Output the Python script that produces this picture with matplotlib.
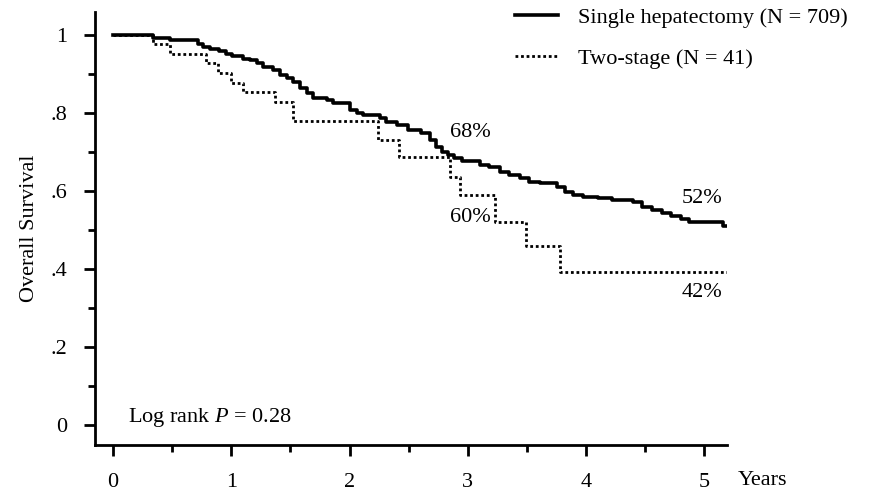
import matplotlib
matplotlib.use("Agg")
import matplotlib.pyplot as plt
from matplotlib.ticker import MultipleLocator

plt.rcParams['font.family'] = ['Liberation Serif', 'DejaVu Serif']
plt.rcParams['mathtext.fontset'] = 'custom'
plt.rcParams['mathtext.rm'] = 'Liberation Serif'
plt.rcParams['mathtext.it'] = 'Liberation Serif:italic'

# Kaplan-Meier estimates (time in years, survival)
single_t = [0, 0.34, 0.48, 0.72, 0.76, 0.82, 0.90, 0.96, 1.01, 1.10, 1.16, 1.22,
            1.27, 1.35, 1.41, 1.47, 1.52, 1.58, 1.64, 1.69, 1.81, 1.86, 2.00, 2.06,
            2.11, 2.26, 2.31, 2.40, 2.49, 2.60, 2.68, 2.73, 2.78, 2.83, 2.88, 2.95,
            3.10, 3.18, 3.27, 3.35, 3.44, 3.52, 3.61, 3.75, 3.82, 3.89, 3.97, 4.10,
            4.22, 4.40, 4.47, 4.56, 4.64, 4.72, 4.80, 4.87, 5.16, 5.19]
single_s = [1.0, 0.992, 0.986, 0.977, 0.969, 0.965, 0.959, 0.952, 0.946, 0.939, 0.935, 0.928,
            0.918, 0.911, 0.898, 0.89, 0.880, 0.864, 0.851, 0.838, 0.833, 0.826, 0.808, 0.801,
            0.795, 0.787, 0.777, 0.769, 0.756, 0.749, 0.731, 0.713, 0.700, 0.692, 0.685, 0.678,
            0.667, 0.662, 0.650, 0.641, 0.633, 0.624, 0.621, 0.611, 0.598, 0.590, 0.585, 0.581,
            0.577, 0.572, 0.560, 0.551, 0.544, 0.536, 0.528, 0.521, 0.510, 0.510]

two_t = [0, 0.34, 0.48, 0.79, 0.89, 1.00, 1.10, 1.37, 1.52, 2.24, 2.42, 2.85,
         2.93, 3.23, 3.49, 3.78, 5.19]
two_s = [1.0, 0.976, 0.951, 0.927, 0.902, 0.878, 0.854, 0.829, 0.78, 0.731, 0.688, 0.636,
         0.59, 0.521, 0.459, 0.392, 0.392]

labels = ["Single hepatectomy (N = 709)", "Two-stage (N = 41)"]
annotations = [(3.02, 0.751, "68%"), (3.02, 0.533, "60%"), (4.98, 0.582, "52%"), (4.98, 0.341, "42%")]

fs = 16

fig = plt.figure(figsize=(8.71, 4.92), dpi=100)
ax = fig.add_axes([0.109, 0.0955, 0.7256, 0.881])

ax.step(single_t, single_s, where='post', color='black', lw=2.6, label=labels[0])
ax.step(two_t, two_s, where='post', color='black', lw=2.0, linestyle=(0, (1, 1)), label=labels[1])

ax.set_xlim(-0.152, 5.19)
ax.set_ylim(-0.051, 1.06)

for side in ['top', 'right']:
    ax.spines[side].set_visible(False)
for side in ['left', 'bottom']:
    ax.spines[side].set_linewidth(2)

ax.xaxis.set_major_locator(MultipleLocator(1))
ax.xaxis.set_minor_locator(MultipleLocator(0.5))
ax.yaxis.set_minor_locator(MultipleLocator(0.1))
ax.set_yticks([0, 0.2, 0.4, 0.6, 0.8, 1.0])
ax.set_yticklabels(["0", ".2", ".4", ".6", ".8", "1"])
ax.tick_params(which='major', length=8, width=2, labelsize=fs, color='black')
ax.tick_params(which='minor', length=5, width=2)
ax.tick_params(axis='x', which='major', pad=12)
ax.tick_params(axis='y', which='major', pad=12)

ax.set_ylabel("Overall Survival", fontsize=fs, labelpad=8)
ax.text(5.49, -0.141, "Years", fontsize=fs, ha='center', va='center', clip_on=False)

for x, y, s in annotations:
    ax.text(x, y, s, fontsize=fs, ha='center', va='center')

ax.text(0.127, 0.02, "Log rank $\\it{P}$ = 0.28", fontsize=fs, ha='left', va='center')

ax.legend(loc='upper left', bbox_to_anchor=(0.591, 0.985), bbox_transform=fig.transFigure,
          frameon=False, fontsize=fs, handlelength=1.95, handletextpad=0.9, labelspacing=0.93,
          borderpad=0, borderaxespad=0)

fig.savefig("out.png", dpi=100)
